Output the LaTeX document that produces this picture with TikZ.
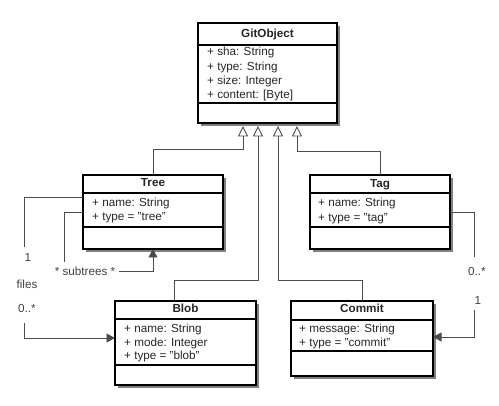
\documentclass[tikz,border=0pt]{standalone}
\usepackage{fontspec}
\setmainfont{Liberation Sans}
\usetikzlibrary{arrows.meta,shadows}
\tikzset{
 umlbox/.style={draw=black, line width=1.5pt, fill=white, inner sep=0pt, outer sep=0pt, anchor=north west,
   drop shadow={shadow xshift=3pt, shadow yshift=-3pt, fill=black!50, opacity=1}},
 divline/.style={line width=1.2pt},
 ttl/.style={anchor=base, inner sep=0pt, font=\fontsize{11.7}{14}\selectfont\bfseries, text=black!85},
 attr/.style={anchor=base west, inner sep=0pt, font=\fontsize{11.7}{14}\selectfont, text=black!85},
 lbl/.style={inner sep=1pt, font=\fontsize{11.7}{14}\selectfont, text=black!75},
 gen/.style={draw=black!70, line width=0.9pt, -{Triangle[fill=white, length=10.5pt, width=10pt]}},
 assoc/.style={draw=black!70, line width=0.9pt},
 navi/.style={assoc, -{Triangle[length=8.5pt, width=9pt]}},
}
\begin{document}
\begin{tikzpicture}[x=1pt,y=-1pt]
\useasboundingbox (0,0) rectangle (499,406);
% GitObject
\node[umlbox, minimum width=139pt, minimum height=100pt] (go) at (198,23) {};
\draw[divline] (198,45) -- (337,45);
\draw[divline] (198,103) -- (337,103);
\node[ttl] (go-t) at (267.5,38) {GitObject};
\node[attr] (go-a1) at (207,56) {+ sha: String};
\node[attr] (go-a2) at (207,70.5) {+ type: String};
\node[attr] (go-a3) at (207,85) {+ size: Integer};
\node[attr] (go-a4) at (207,99) {+ content: [Byte]};
\coordinate (t1) at (243,126);
\coordinate (t2) at (258,126);
\coordinate (t3) at (278,126);
\coordinate (t4) at (297,126);
% Tree
\node[umlbox, minimum width=140pt, minimum height=74pt] (tree) at (83,175) {};
\draw[divline] (83,193) -- (223,193);
\draw[divline] (83,227) -- (223,227);
\node[ttl] (tree-t) at (153,187) {Tree};
\node[attr] (tree-a1) at (92,207) {+ name: String};
\node[attr] (tree-a2) at (92,221) {+ type = "tree"};
% Tag
\node[umlbox, minimum width=140pt, minimum height=74pt] (tag) at (310,175) {};
\draw[divline] (310,193) -- (450,193);
\draw[divline] (310,227) -- (450,227);
\node[ttl] (tag-t) at (380,188) {Tag};
\node[attr] (tag-a1) at (318,207) {+ name: String};
\node[attr] (tag-a2) at (318,222) {+ type = "tag"};
% Blob
\node[umlbox, minimum width=141pt, minimum height=84pt] (blob) at (115,301) {};
\draw[divline] (115,319) -- (256,319);
\draw[divline] (115,365) -- (256,365);
\node[ttl] (blob-t) at (185.5,313) {Blob};
\node[attr] (blob-a1) at (124,333) {+ name: String};
\node[attr] (blob-a2) at (124,346.5) {+ mode: Integer};
\node[attr] (blob-a3) at (124,360) {+ type = "blob"};
% Commit
\node[umlbox, minimum width=142pt, minimum height=75pt] (commit) at (291,301) {};
\draw[divline] (291,320) -- (433,320);
\draw[divline] (291,351) -- (433,351);
\node[ttl] (commit-t) at (362,313) {Commit};
\node[attr] (commit-a1) at (299,333) {+ message: String};
\node[attr] (commit-a2) at (299,346.5) {+ type = "commit"};
% generalizations
\draw[gen] (tree.north) -- ++(0,-26) -| (t1);
\draw[gen] ([xshift=-11.5pt]blob.north) -- ++(0,-21) -| (t2);
\draw[gen] (commit.north) -- ++(0,-21) -| (t3);
\draw[gen] (tag.north) -- ++(0,-24) -| (t4);
% files association
\coordinate (f1) at (24,247);
\coordinate (f2) at (24,323);
\draw[assoc] ([yshift=15pt]tree.west) -| (f1);
\draw[navi] (f2) |- ([yshift=5pt]blob.west);
\node[lbl] (m1) at (28,257) {1};
\node[lbl] (files) at (27,284) {files};
\node[lbl] (m2) at (27,308) {0..*};
% subtrees association
\coordinate (s1) at (64,262);
\draw[assoc] (tree.west) -| (s1);
\node[lbl] (st) at (85,271) {* subtrees *};
\draw[navi] ([xshift=3pt]st.east) -| (tree.south);
% tag -> commit association
\coordinate (g1) at (474,257);
\coordinate (g2) at (474,310);
\draw[assoc] (tag.east) -| (g1);
\node[lbl] (m3) at (477,271) {0..*};
\node[lbl] (m4) at (478,300) {1};
\draw[navi] (g2) |- ([yshift=1.5pt]commit.east);
\end{tikzpicture}
\end{document}
